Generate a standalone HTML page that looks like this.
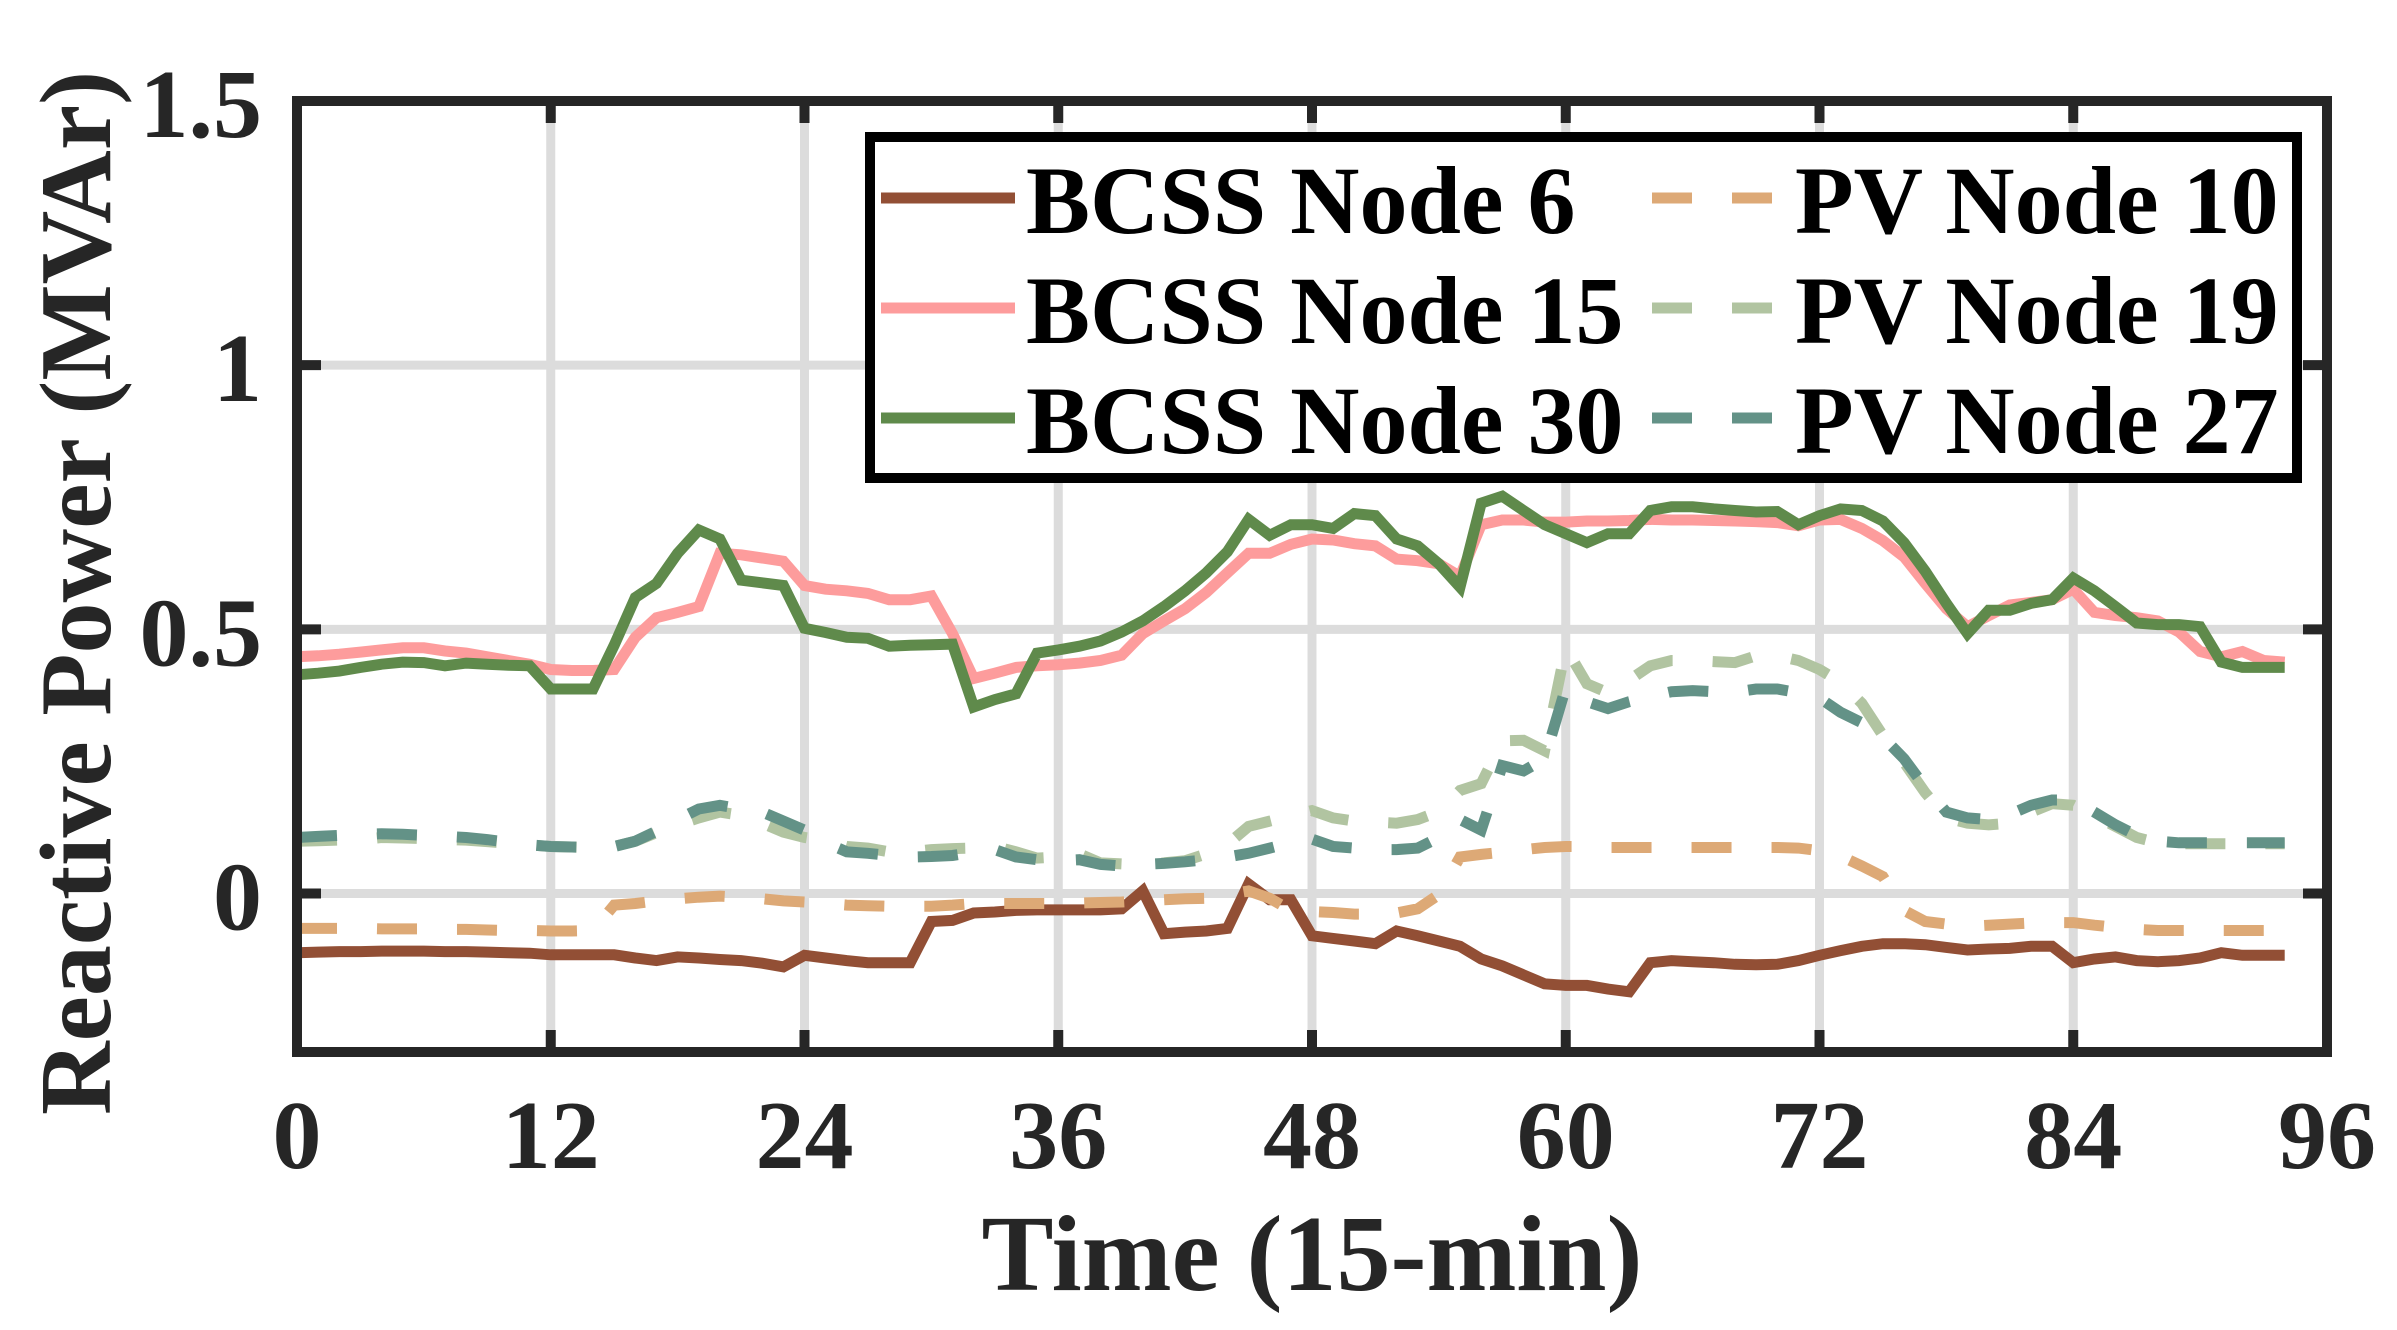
<!DOCTYPE html>
<html><head><meta charset="utf-8"><style>
html,body{margin:0;padding:0;background:#fff;}
svg{display:block;font-family:"Liberation Serif","Times New Roman",serif;font-weight:bold;}
</style></head><body>
<svg id="chart" width="2397" height="1330" viewBox="0 0 2397 1330" xmlns="http://www.w3.org/2000/svg">
<g id="grid"></g>
<g id="series"></g>
<g id="axes"></g>
<text x="1312" y="1290" font-size="108" text-anchor="middle" fill="#262626">Time (15-min)</text>
<text transform="translate(110,593) rotate(-90)" font-size="102" text-anchor="middle" fill="#262626">Reactive Power (MVAr)</text>
<g id="legend"></g>
</svg>
<script>
const xTicks = [0, 12, 24, 36, 48, 60, 72, 84, 96];
const yTicks = [0, 0.5, 1, 1.5];
const yTickLabels = ["0", "0.5", "1", "1.5"];
const seriesNames = ["BCSS Node 6", "BCSS Node 15", "BCSS Node 30", "PV Node 10", "PV Node 19", "PV Node 27"];
const bcss6 = [-0.112,-0.111,-0.110,-0.110,-0.109,-0.109,-0.109,-0.110,-0.110,-0.111,-0.112,-0.113,-0.116,-0.116,-0.116,-0.116,-0.122,-0.127,-0.120,-0.122,-0.125,-0.127,-0.132,-0.139,-0.117,-0.122,-0.127,-0.131,-0.131,-0.131,-0.053,-0.051,-0.037,-0.035,-0.032,-0.031,-0.031,-0.031,-0.031,-0.029,0.005,-0.076,-0.073,-0.071,-0.066,0.018,-0.012,-0.012,-0.080,-0.085,-0.090,-0.095,-0.071,-0.080,-0.090,-0.100,-0.124,-0.137,-0.154,-0.171,-0.174,-0.174,-0.181,-0.186,-0.131,-0.127,-0.129,-0.131,-0.134,-0.135,-0.134,-0.127,-0.117,-0.108,-0.100,-0.095,-0.095,-0.097,-0.102,-0.107,-0.105,-0.104,-0.100,-0.100,-0.131,-0.124,-0.120,-0.127,-0.129,-0.127,-0.122,-0.112,-0.117,-0.117,-0.117];
const bcss15 = [0.448,0.450,0.453,0.457,0.461,0.465,0.465,0.459,0.455,0.448,0.441,0.434,0.424,0.422,0.422,0.424,0.485,0.522,0.532,0.543,0.644,0.641,0.635,0.629,0.583,0.576,0.573,0.568,0.556,0.556,0.563,0.492,0.407,0.417,0.428,0.431,0.433,0.436,0.441,0.451,0.492,0.516,0.539,0.570,0.607,0.644,0.644,0.661,0.671,0.669,0.662,0.658,0.633,0.630,0.624,0.600,0.698,0.707,0.707,0.703,0.703,0.705,0.705,0.706,0.708,0.707,0.707,0.706,0.705,0.704,0.702,0.696,0.707,0.708,0.691,0.668,0.637,0.587,0.539,0.505,0.526,0.546,0.551,0.556,0.576,0.532,0.526,0.522,0.516,0.495,0.458,0.448,0.458,0.441,0.438];
const bcss30 = [0.414,0.417,0.421,0.428,0.434,0.438,0.437,0.431,0.436,0.434,0.432,0.431,0.387,0.387,0.387,0.470,0.560,0.587,0.644,0.688,0.671,0.593,0.588,0.583,0.502,0.494,0.485,0.483,0.468,0.470,0.471,0.472,0.353,0.367,0.378,0.455,0.461,0.468,0.478,0.495,0.516,0.543,0.573,0.607,0.647,0.708,0.678,0.698,0.698,0.691,0.719,0.715,0.671,0.658,0.624,0.580,0.739,0.752,0.725,0.698,0.681,0.664,0.681,0.681,0.725,0.732,0.732,0.728,0.725,0.722,0.723,0.698,0.715,0.728,0.725,0.705,0.664,0.610,0.549,0.492,0.536,0.536,0.549,0.556,0.597,0.573,0.543,0.512,0.509,0.509,0.505,0.438,0.428,0.428,0.428];
const pv10 = [-0.066,-0.066,-0.066,-0.066,-0.067,-0.067,-0.067,-0.068,-0.068,-0.069,-0.070,-0.070,-0.071,-0.071,-0.070,-0.022,-0.019,-0.014,-0.010,-0.007,-0.005,-0.007,-0.010,-0.014,-0.016,-0.019,-0.022,-0.023,-0.024,-0.024,-0.024,-0.022,-0.019,-0.019,-0.019,-0.019,-0.019,-0.018,-0.017,-0.016,-0.014,-0.012,-0.010,-0.009,-0.002,0.005,-0.009,-0.032,-0.034,-0.036,-0.039,-0.039,-0.037,-0.029,-0.002,0.069,0.074,0.078,0.083,0.087,0.089,0.089,0.087,0.087,0.087,0.087,0.087,0.087,0.087,0.087,0.087,0.086,0.081,0.071,0.052,0.032,-0.032,-0.053,-0.058,-0.062,-0.060,-0.058,-0.056,-0.055,-0.055,-0.060,-0.064,-0.068,-0.070,-0.070,-0.070,-0.070,-0.070,-0.070,-0.070];
const pv19 = [0.099,0.100,0.101,0.102,0.106,0.105,0.104,0.102,0.101,0.098,0.095,0.092,0.089,0.088,0.087,0.089,0.099,0.115,0.130,0.143,0.154,0.148,0.133,0.116,0.106,0.100,0.089,0.086,0.079,0.079,0.083,0.085,0.086,0.089,0.079,0.067,0.069,0.075,0.058,0.056,0.057,0.058,0.062,0.075,0.093,0.127,0.137,0.147,0.157,0.143,0.137,0.135,0.133,0.140,0.155,0.195,0.208,0.289,0.290,0.270,0.465,0.397,0.380,0.404,0.431,0.441,0.441,0.439,0.437,0.450,0.450,0.441,0.424,0.400,0.360,0.299,0.248,0.191,0.143,0.133,0.130,0.133,0.154,0.170,0.167,0.147,0.127,0.106,0.096,0.094,0.094,0.094,0.094,0.094,0.094];
const pv27 = [0.106,0.108,0.110,0.112,0.113,0.112,0.110,0.108,0.106,0.102,0.097,0.092,0.089,0.088,0.087,0.089,0.099,0.118,0.140,0.160,0.167,0.160,0.154,0.137,0.120,0.096,0.079,0.076,0.072,0.069,0.070,0.072,0.078,0.083,0.069,0.064,0.062,0.064,0.055,0.052,0.055,0.057,0.060,0.064,0.069,0.076,0.086,0.096,0.103,0.089,0.086,0.083,0.083,0.086,0.106,0.140,0.120,0.242,0.232,0.255,0.390,0.363,0.350,0.363,0.373,0.382,0.384,0.382,0.381,0.387,0.387,0.380,0.370,0.343,0.323,0.296,0.255,0.201,0.154,0.143,0.140,0.150,0.167,0.177,0.177,0.154,0.130,0.110,0.099,0.096,0.096,0.096,0.096,0.096,0.096];

const seriesData = [bcss6, bcss15, bcss30, pv10, pv19, pv27];
const colors = ["#924f35", "#fd9c9c", "#5f8a4b", "#dda976", "#b1c4a1", "#639287"];
const dashed = [false, false, false, true, true, true];
const NS = "http://www.w3.org/2000/svg";
const L = 297, R = 2327, T = 101, B = 1052;
const xMin = 0, xMax = 96, yMin = -0.3, yMax = 1.5;
function xs(v){ return L + (v - xMin) / (xMax - xMin) * (R - L); }
function ys(v){ return B - (v - yMin) / (yMax - yMin) * (B - T); }
function mk(tag, attrs, parent){
  const e = document.createElementNS(NS, tag);
  for (const k in attrs) e.setAttribute(k, attrs[k]);
  parent.appendChild(e);
  return e;
}
const grid = document.getElementById('grid');
const axes = document.getElementById('axes');
xTicks.forEach(function(t){
  if (t === xMin || t === xMax) return;
  const g = mk('line', {x1: xs(t), x2: xs(t), y1: T, y2: B, stroke: '#dcdcdc', 'stroke-width': 9}, grid);
  
  
});
yTicks.forEach(function(t){
  if (t === yMax) return;
  const g = mk('line', {x1: L, x2: R, y1: ys(t), y2: ys(t), stroke: '#dcdcdc', 'stroke-width': 9}, grid);
  
  
});
const ser = document.getElementById('series');
seriesData.forEach(function(arr, i){
  const pts = arr.map(function(v, j){ return xs(j).toFixed(1) + ',' + ys(v).toFixed(1); }).join(' ');
  const attrs = {points: pts, fill: 'none', stroke: colors[i], 'stroke-width': 11, 'stroke-linejoin': 'miter', 'stroke-miterlimit': 3};
  if (dashed[i]) attrs['stroke-dasharray'] = '40 40';
  const p = mk('polyline', attrs, ser);
  
  
});
const box = mk('rect', {x: L, y: T, width: R - L, height: B - T, fill: 'none', stroke: '#262626', 'stroke-width': 10}, axes);


xTicks.forEach(function(t){
  const a = mk('line', {x1: xs(t), x2: xs(t), y1: B, y2: B - 22, stroke: '#262626', 'stroke-width': 10}, axes);
  
  
  const b = mk('line', {x1: xs(t), x2: xs(t), y1: T, y2: T + 22, stroke: '#262626', 'stroke-width': 10}, axes);
  
  
  const lb = mk('text', {x: xs(t), y: 1168, 'font-size': 98, 'text-anchor': 'middle', fill: '#262626'}, axes);
  lb.textContent = String(t);
  
  
});
yTicks.forEach(function(t, i){
  const a = mk('line', {x1: L, x2: L + 24, y1: ys(t), y2: ys(t), stroke: '#262626', 'stroke-width': 10}, axes);
  
  
  const b = mk('line', {x1: R, x2: R - 24, y1: ys(t), y2: ys(t), stroke: '#262626', 'stroke-width': 10}, axes);
  
  
  const lb = mk('text', {x: 262, y: ys(t) + 36, 'font-size': 98, 'text-anchor': 'end', fill: '#262626'}, axes);
  lb.textContent = yTickLabels[i];
  
  
});
const leg = document.getElementById('legend');
const lbox = mk('rect', {x: 870, y: 137, width: 1427, height: 341, fill: '#fff', stroke: '#000', 'stroke-width': 10}, leg);


seriesNames.forEach(function(n, i){
  const col = i < 3 ? 0 : 1, row = i % 3;
  const ly = 198 + row * 110;
  const x1 = col === 0 ? 881 : 1652, x2 = col === 0 ? 1015 : 1773, tx = col === 0 ? 1026 : 1795;
  const attrs = {x1: x1, x2: x2, y1: ly, y2: ly, stroke: colors[i], 'stroke-width': 11};
  if (dashed[i]) attrs['stroke-dasharray'] = '40 40';
  const s = mk('line', attrs, leg);
  
  
  const t = mk('text', {x: tx, y: ly + 35, 'font-size': 96, fill: '#000'}, leg);
  t.textContent = n;
  
  
});
</script>
</body></html>
